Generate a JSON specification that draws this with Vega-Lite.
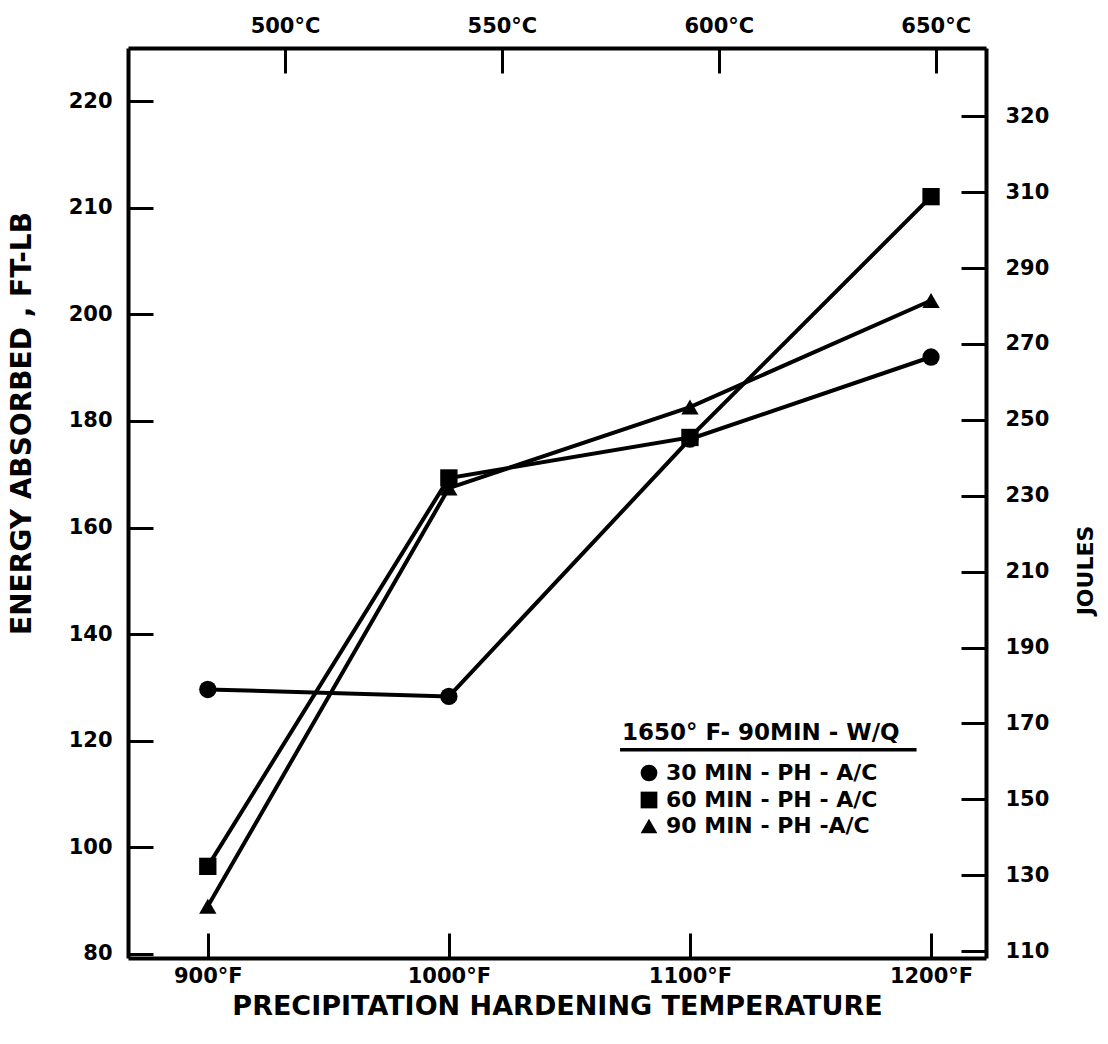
{
  "$schema": "https://vega.github.io/schema/vega-lite/v6.json",
  "width": 858,
  "height": 910,
  "autosize": {"type": "none"},
  "padding": {"left": 128, "top": 48, "right": 122, "bottom": 86},
  "background": "white",
  "config": {
    "view": {"stroke": null},
    "font": "DejaVu Sans",
    "axis": {
      "grid": false,
      "domainColor": "black",
      "domainWidth": 4,
      "tickColor": "black",
      "tickWidth": 3,
      "tickSize": -25,
      "labelFont": "DejaVu Sans",
      "labelFontWeight": "bold",
      "labelFontSize": 21,
      "labelColor": "black",
      "titleFont": "DejaVu Sans",
      "titleFontWeight": "bold",
      "titleColor": "black"
    }
  },
  "data": {
    "values": [
      {"series": "30 MIN - PH - A/C", "F": 900, "ftlb": 129.6, "C": 482.2, "J": 175.7},
      {"series": "30 MIN - PH - A/C", "F": 1000, "ftlb": 128.3, "C": 537.8, "J": 174.0},
      {"series": "30 MIN - PH - A/C", "F": 1100, "ftlb": 176.6, "C": 593.3, "J": 239.4},
      {"series": "30 MIN - PH - A/C", "F": 1200, "ftlb": 192.0, "C": 648.9, "J": 260.3},
      {"series": "60 MIN - PH - A/C", "F": 900, "ftlb": 96.4, "C": 482.2, "J": 130.7},
      {"series": "60 MIN - PH - A/C", "F": 1000, "ftlb": 169.3, "C": 537.8, "J": 229.5},
      {"series": "60 MIN - PH - A/C", "F": 1100, "ftlb": 176.9, "C": 593.3, "J": 239.8},
      {"series": "60 MIN - PH - A/C", "F": 1200, "ftlb": 222.1, "C": 648.9, "J": 301.1},
      {"series": "90 MIN - PH -A/C", "F": 900, "ftlb": 88.9, "C": 482.2, "J": 120.5},
      {"series": "90 MIN - PH -A/C", "F": 1000, "ftlb": 167.4, "C": 537.8, "J": 227.0},
      {"series": "90 MIN - PH -A/C", "F": 1100, "ftlb": 182.6, "C": 593.3, "J": 247.6},
      {"series": "90 MIN - PH -A/C", "F": 1200, "ftlb": 202.6, "C": 648.9, "J": 274.7}
    ]
  },
  "layer": [
    {
      "encoding": {
        "x": {
          "field": "F",
          "type": "quantitative",
          "scale": {"domain": [866.9, 1222.8], "nice": false, "zero": false},
          "axis": {
            "orient": "bottom",
            "values": [900, 1000, 1100, 1200],
            "labelExpr": "datum.value + '°F'",
            "labelPadding": 32,
            "title": "PRECIPITATION HARDENING TEMPERATURE",
            "titleFontSize": 27,
            "titleBaseline": "middle",
            "titleY": 48
          }
        },
        "y": {
          "field": "ftlb",
          "type": "quantitative",
          "scale": {"domain": [79.2, 250], "nice": false, "zero": false},
          "axis": {
            "orient": "left",
            "values": [80, 100, 120, 140, 160, 180, 200, 220, 240],
            "labelExpr": "datum.value == 220 ? '210' : datum.value == 240 ? '220' : datum.label",
            "labelPadding": 41,
            "title": "ENERGY ABSORBED , FT-LB",
            "titleFontSize": 28,
            "titleAngle": 270,
            "titleBaseline": "middle",
            "titleAlign": "center",
            "titleX": -106,
            "titleY": 375
          }
        }
      },
      "layer": [
        {
          "mark": {"type": "line", "color": "black", "strokeWidth": 4},
          "encoding": {"detail": {"field": "series"}}
        },
        {
          "mark": {"type": "point", "filled": true, "size": 300, "color": "black", "opacity": 1},
          "encoding": {
            "shape": {
              "field": "series",
              "type": "nominal",
              "scale": {
                "domain": ["30 MIN - PH - A/C", "60 MIN - PH - A/C", "90 MIN - PH -A/C"],
                "range": ["circle", "square", "triangle-up"]
              },
              "legend": {
                "orient": "none",
                "legendX": 494,
                "legendY": 674,
                "title": "1650° F- 90MIN - W/Q",
                "titleFont": "DejaVu Sans",
                "titleFontWeight": "bold",
                "titleFontSize": 23,
                "titleColor": "black",
                "titlePadding": 17,
                "titleLimit": 0,
                "labelFont": "DejaVu Sans",
                "labelFontWeight": "bold",
                "labelFontSize": 22,
                "labelColor": "black",
                "labelLimit": 0,
                "labelOffset": 6,
                "symbolOffset": 16,
                "symbolSize": 280,
                "symbolFillColor": "black",
                "symbolStrokeColor": "black",
                "rowPadding": 3
              }
            }
          }
        },
        {
          "transform": [{"filter": "datum.F == 900 && datum.series == '30 MIN - PH - A/C'"}],
          "mark": {"type": "rule", "color": "black", "strokeWidth": 3.5},
          "encoding": {
            "x": {"datum": 1071, "type": "quantitative"},
            "x2": {"datum": 1194},
            "y": {"datum": 118.3, "type": "quantitative"}
          }
        }
      ]
    },
    {
      "mark": {"type": "point", "opacity": 0},
      "encoding": {
        "x": {
          "field": "C",
          "type": "quantitative",
          "scale": {"domain": [463.8, 661.6], "nice": false, "zero": false},
          "axis": {
            "orient": "top",
            "values": [500, 550, 600, 650],
            "labelExpr": "datum.value + '°C'",
            "labelPadding": 37,
            "title": null
          }
        },
        "y": {
          "field": "J",
          "type": "quantitative",
          "scale": {"domain": [108.2, 348], "nice": false, "zero": false},
          "axis": {
            "orient": "right",
            "values": [110, 130, 150, 170, 190, 210, 230, 250, 270, 290, 310, 330],
            "labelExpr": "datum.value == 330 ? '320' : datum.label",
            "labelPadding": 44,
            "title": "JOULES",
            "titleFontSize": 22,
            "titleAngle": 270,
            "titleBaseline": "middle",
            "titleAlign": "center",
            "titleX": 99,
            "titleY": 522
          }
        }
      }
    }
  ],
  "resolve": {
    "scale": {"x": "independent", "y": "independent"},
    "axis": {"x": "independent", "y": "independent"}
  }
}
